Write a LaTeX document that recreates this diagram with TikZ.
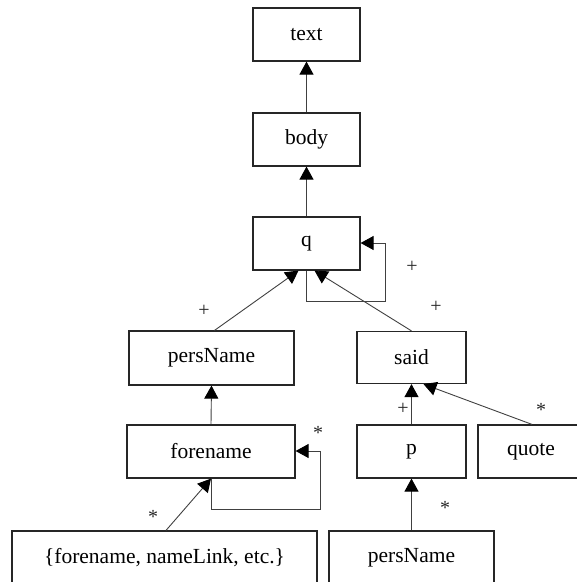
\documentclass[tikz,border=0pt]{standalone}
\usepackage{fontspec}
\setmainfont{Liberation Serif}
\usetikzlibrary{arrows.meta,calc}
\begin{document}
\begin{tikzpicture}[x=1pt,y=-1pt,
  box/.style={draw=black!85,line width=1.2pt,rectangle,inner sep=0pt,
    font=\fontsize{21.5}{23}\selectfont,text=black},
  arr/.style={draw=black!75,line width=0.9pt,-{Triangle[length=13pt,width=14pt,fill=black,color=black]}},
  lbl/.style={font=\fontsize{20}{20}\selectfont,text=black!85,inner sep=0pt}]
\useasboundingbox (0,0) rectangle (577,582);
\node[box,minimum width=107pt,minimum height=53pt] (text) at (306.5,34.5) {text};
\node[box,minimum width=107pt,minimum height=53pt] (body) at (306.5,139.5) {body};
\node[box,minimum width=107pt,minimum height=53pt] (q) at (306.5,243.5) {q};
\node[box,minimum width=165pt,minimum height=54pt] (pn) at (211.5,358) {persName};
\node[box,minimum width=109pt,minimum height=52pt] (said) at (411.5,357.5) {said};
\node[box,minimum width=168pt,minimum height=53pt] (fn) at (211,451.5) {forename};
\node[box,minimum width=109pt,minimum height=53pt] (p) at (411.5,451.5) {p};
\node[box,minimum width=106pt,minimum height=53pt] (quote) at (531,451.5) {quote};
\node[box,minimum width=305pt,minimum height=54pt] (set) at (164.5,558) {\{forename, nameLink, etc.\}};
\node[box,minimum width=165pt,minimum height=54pt] (pn2) at (411.5,558) {persName};
% connectors
\draw[arr] (body.north) -- (text.south);
\draw[arr] (q.north) -- (body.south);
\draw[arr] ($(pn.north)+(3,0)$) -- ($(q.south)+(-8,0)$);
\draw[arr] (said.north) -- ($(q.south)+(8,0)$);
\draw[arr] (q.south) -- (q.south |- 0,301) -| (385,243) -- (q.east |- 0,243);
\draw[arr] (p.north) -- (said.south);
\draw[arr] ($(quote.north)+(1,0)$) -- ($(said.south)+(12,0)$);
\draw[arr] (pn2.north) -- (p.south);
\draw[arr] (fn.north) -- (pn.south);
\draw[arr] (fn.south) -- (fn.south |- 0,509) -| (320,451) -- (fn.east |- 0,451);
\draw[arr] ($(set.north)+(1.5,0)$) -- (fn.south);
% labels
\node[lbl] (l1) at (412,267) {+};
\node[lbl] (l2) at (436,307) {+};
\node[lbl] (l3) at (204,311) {+};
\node[lbl] (l4) at (403,409) {+};
\node[lbl] (s1) at (318,433) {*};
\node[lbl] (s2) at (153,517) {*};
\node[lbl] (s3) at (541,410) {*};
\node[lbl] (s4) at (445,508) {*};
\end{tikzpicture}
\end{document}
